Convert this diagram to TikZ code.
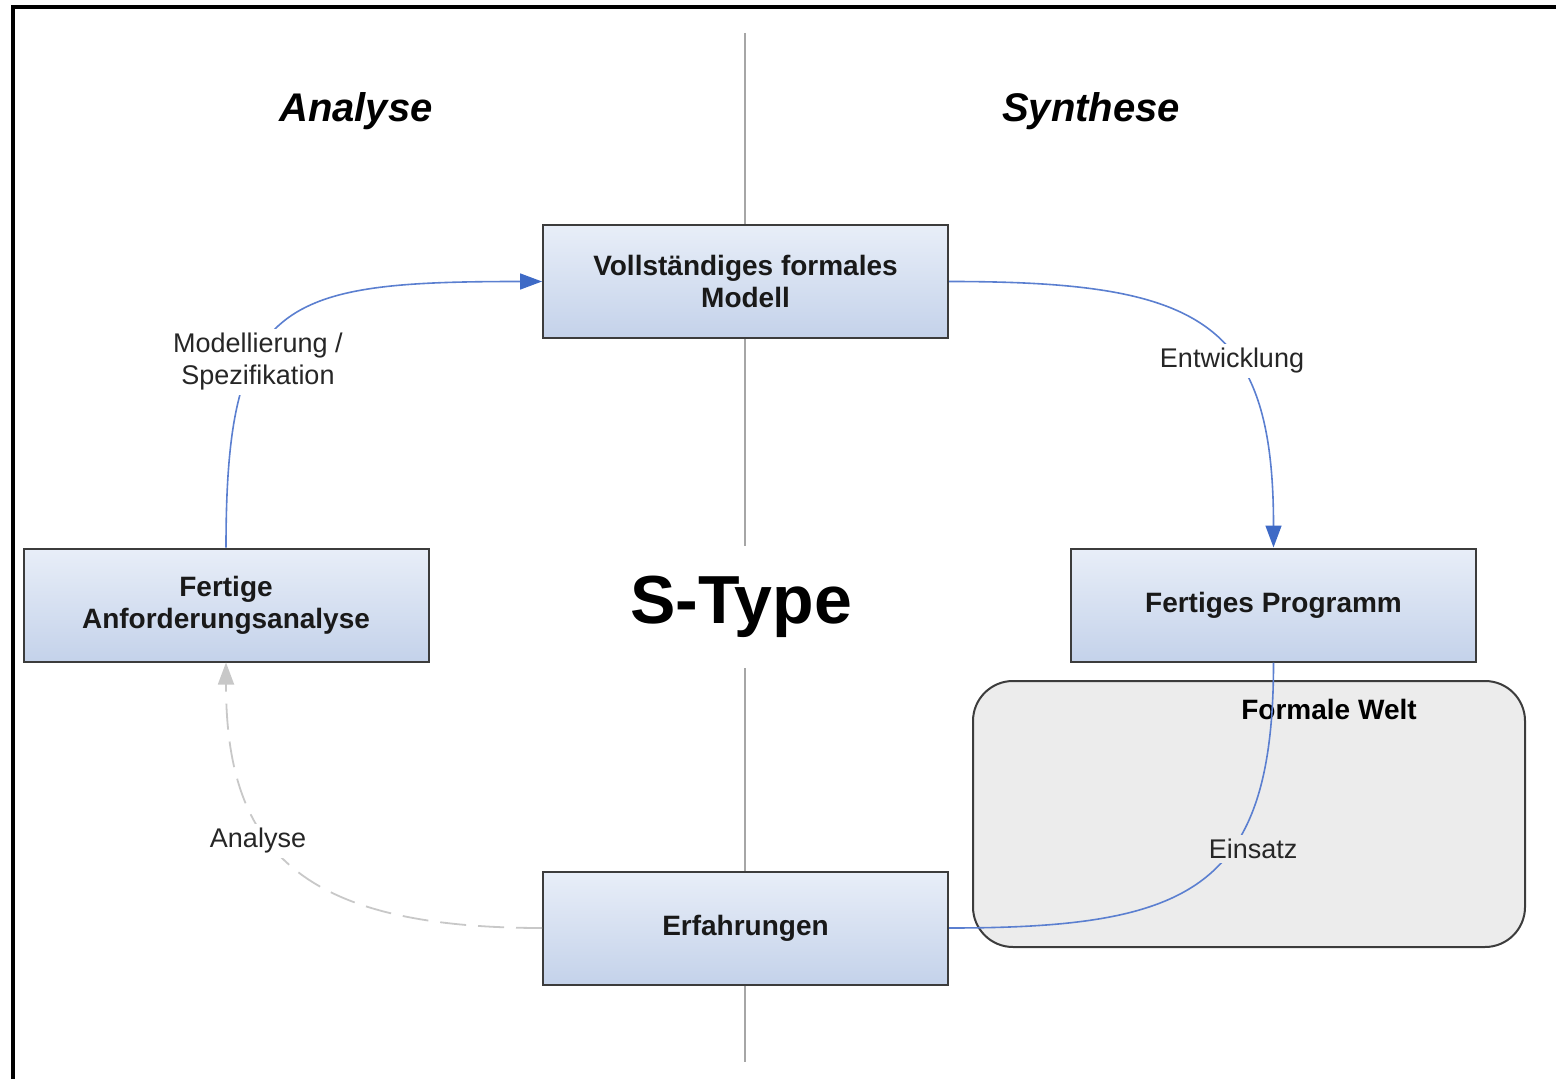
\documentclass[tikz,border=0pt]{standalone}
\usepackage{fontspec}
\setmainfont{Liberation Sans}
\usetikzlibrary{arrows.meta}
\definecolor{boxtop}{HTML}{E8EEF8}
\definecolor{boxbot}{HTML}{C4D2EA}
\definecolor{boxline}{HTML}{3C3C3C}
\definecolor{flow}{HTML}{5B7FD0}
\definecolor{flowtip}{HTML}{3E6AC6}
\definecolor{welt}{HTML}{ECECEC}
\definecolor{dashgray}{HTML}{C8C8C8}
\tikzset{
  procbox/.style={draw=boxline, line width=1pt, top color=boxtop, bottom color=boxbot,
    minimum width=202.5pt, minimum height=56.5pt, align=center,
    font=\fontsize{14}{16}\selectfont\bfseries, text=black!90},
  flowline/.style={draw=flow, line width=0.8pt},
  flowarrow/.style={flowline, -{Triangle[length=11pt,width=8pt,color=flowtip,fill=flowtip]}},
  flowlabel/.style={font=\fontsize{13.5}{16}\selectfont, align=center, fill=white, inner sep=2pt, text=black!85},
  title/.style={font=\fontsize{20}{24}\selectfont\bfseries\itshape}
}
\begin{document}
\begin{tikzpicture}[x=0.5pt,y=-0.5pt]
\useasboundingbox (0,0) rectangle (1556,1079);
% frame (top and left)
\draw[line width=2pt] (13,1079) -- (13,7) -- (1556,7);
% divider
\draw[gray!70, line width=0.9pt] (745,33) -- (745,1062);
% formal world region
\node[draw=boxline, line width=1pt, fill=welt, rounded corners=20pt,
      minimum width=276pt, minimum height=133pt] (welt) at (1249,814) {};
\node[font=\fontsize{14}{16}\selectfont\bfseries] (weltlbl) at (1329,709) {Formale Welt};
% titles
\node[title] (tana) at (356,111) {Analyse};
\node[title] (tsyn) at (1091,111) {Synthese};
% S-Type
\node[fill=white, minimum height=61pt, inner xsep=4pt, font=\fontsize{34}{40}\selectfont\bfseries] (stype) at (741,607) {S-Type};
% boxes
\node[procbox] (modell) at (745.5,281.5) {Vollständiges formales\\Modell};
\node[procbox] (anf) at (226,605) {Fertige\\Anforderungsanalyse};
\node[procbox] (prog) at (1273.5,605) {Fertiges Programm};
\node[procbox] (erf) at (745.5,928) {Erfahrungen};
% connectors
\draw[flowarrow] (anf.north) .. controls (226,300) and (280,281.5) .. (modell.west);
\node[flowlabel] (lmod) at (258,362) {Modellierung /\\Spezifikation};
\draw[flowarrow] (modell.east) .. controls (1200,281.5) and (1273.5,320) .. (prog.north);
\node[flowlabel] (lent) at (1232,361) {Entwicklung};
\draw[flowline] (prog.south) .. controls (1273.5,890) and (1190,928) .. (erf.east);
\node[flowlabel, fill=welt] (lein) at (1253,849) {Einsatz};
\draw[draw=dashgray, line width=0.9pt, dash pattern=on 13pt off 6pt,
      -{Triangle[length=11pt,width=8pt,color=dashgray,fill=dashgray]}]
  (erf.west) .. controls (300,928) and (226,850) .. (anf.south);
\node[flowlabel] (lana) at (258,841) {Analyse};
\end{tikzpicture}
\end{document}
